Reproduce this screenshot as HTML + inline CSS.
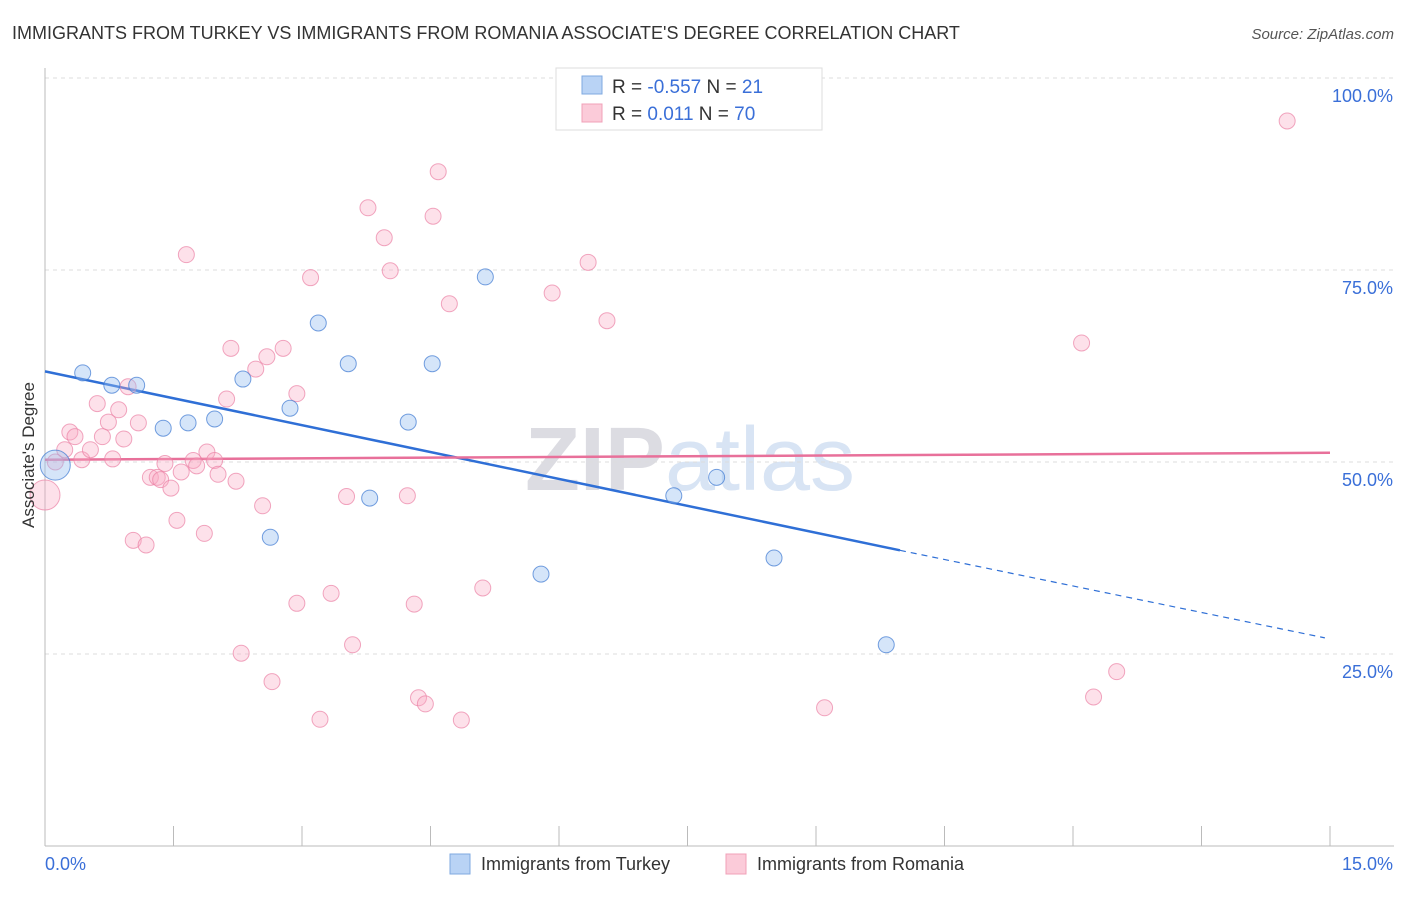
<!DOCTYPE html>
<html><head><meta charset="utf-8"><style>
body{margin:0;background:#fff;font-family:"Liberation Sans",sans-serif;}
svg text{font-family:"Liberation Sans",sans-serif;}
</style></head><body>
<svg id="chart" width="1406" height="892" xmlns="http://www.w3.org/2000/svg">
<text x="12" y="39" font-size="18" fill="#333">IMMIGRANTS FROM TURKEY VS IMMIGRANTS FROM ROMANIA ASSOCIATE'S DEGREE CORRELATION CHART</text>
<text x="1394" y="39" font-size="15" fill="#555" font-style="italic" text-anchor="end">Source: ZipAtlas.com</text>
<text x="690" y="490" font-size="90" fill="#e6e6ec" text-anchor="middle" font-family="Liberation Serif"><tspan font-weight="bold" fill="#dcdce2">ZIP</tspan><tspan fill="#d8e4f4" font-family="Liberation Sans">atlas</tspan></text>
<g id="grid"></g>
<g id="axes"></g>
<g id="lines"></g>
<g id="pts"></g>
<text x="34" y="455" font-size="17" fill="#333" text-anchor="middle" transform="rotate(-90 34 455)">Associate's Degree</text>
<g>
<rect x="556" y="68" width="266" height="62" fill="#fff" stroke="#ddd"/>
<rect x="582" y="76" width="20" height="18" fill="#b9d3f5" stroke="#7fa9e0"/>
<rect x="582" y="104" width="20" height="18" fill="#fbcbd9" stroke="#f0a0b8"/>
<text x="612" y="93" font-size="19" fill="#333">R = <tspan fill="#3a6fd8">-0.557</tspan>   N = <tspan fill="#3a6fd8"> 21</tspan></text>
<text x="612" y="120" font-size="19" fill="#333">R =    <tspan fill="#3a6fd8">0.011</tspan>   N = <tspan fill="#3a6fd8">70</tspan></text>
</g>
<g>
<rect x="450" y="854" width="20" height="20" fill="#b9d3f5" stroke="#7fa9e0"/>
<text x="481" y="870" font-size="18" fill="#333">Immigrants from Turkey</text>
<rect x="726" y="854" width="20" height="20" fill="#fbcbd9" stroke="#f0a0b8"/>
<text x="757" y="870" font-size="18" fill="#333">Immigrants from Romania</text>
</g>
</svg>
<script>
const yTicks=[25,50,75,100];
const yTickLabels=["25.0%","50.0%","75.0%","100.0%"];
const xTickVals=[0,1.5,3,4.5,6,7.5,9,10.5,12,13.5,15];
const xEndLabels=["0.0%","15.0%"];
const turkeyX=[0.44,0.78,1.07,1.38,1.67,1.98,2.31,2.63,2.86,3.19,3.54,3.79,4.24,4.52,5.14,5.79,7.34,7.84,8.51,9.82,0.12];
const turkeyY=[61.6,60.0,60.0,54.4,55.1,55.6,60.8,40.2,57.0,68.1,62.8,45.3,55.2,62.8,74.1,35.4,45.6,48.0,37.5,26.2,49.6];
const romaniaX=[0.0,0.12,0.23,0.29,0.35,0.43,0.53,0.61,0.67,0.74,0.79,0.86,0.92,0.97,1.03,1.09,1.18,1.23,1.31,1.35,1.40,1.47,1.54,1.59,1.65,1.73,1.77,1.86,1.89,1.98,2.02,2.12,2.17,2.23,2.29,2.46,2.54,2.59,2.65,2.78,2.94,2.94,3.10,3.21,3.34,3.52,3.59,3.77,3.96,4.03,4.23,4.31,4.36,4.44,4.53,4.59,4.72,4.86,5.11,5.92,6.34,6.56,9.10,12.10,12.24,12.51,14.50];
const romaniaY=[45.7,50.0,51.6,53.9,53.3,50.3,51.6,57.6,53.3,55.2,50.4,56.8,53.0,59.8,39.8,55.1,39.2,48.0,48.0,47.7,49.8,46.6,42.4,48.7,77.0,50.2,49.5,40.7,51.3,50.2,48.4,58.2,64.8,47.5,25.1,62.1,44.3,63.7,21.4,64.8,58.9,31.6,74.0,16.5,32.9,45.5,26.2,83.1,79.2,74.9,45.6,31.5,19.3,18.5,82.0,87.8,70.6,16.4,33.6,72.0,76.0,68.4,18.0,65.5,19.4,22.7,94.4];
const turkeyTrend=[[0,61.8],[9.98,38.5]];
const turkeyTrendDash=[[9.98,38.5],[14.94,27.1]];
const romaniaTrend=[[0,50.3],[15,51.2]];
const X=v=>45+v/15*1285, Y=v=>846-v*7.68;
const NS="http://www.w3.org/2000/svg";
function mk(p,t,a){const e=document.createElementNS(NS,t);for(const k in a)e.setAttribute(k,a[k]);p.appendChild(e);return e;}
const grid=document.getElementById('grid'),axes=document.getElementById('axes'),lines=document.getElementById('lines'),pts=document.getElementById('pts');
yTicks.forEach((v,i)=>{
 const l=mk(grid,'line',{x1:45,x2:1394,y1:Y(v),y2:Y(v),stroke:'#ddd','stroke-dasharray':'4 4'});
 
 
 const t=mk(axes,'text',{x:1393,y:Y(v)+24,'font-size':18,fill:'#3a6fd8','text-anchor':'end'});t.textContent=yTickLabels[i];
 
 
});
mk(axes,'line',{x1:45,x2:45,y1:68,y2:846,stroke:'#bbb'});
mk(axes,'line',{x1:45,x2:1394,y1:846,y2:846,stroke:'#bbb'});
xTickVals.forEach(v=>{const t=mk(axes,'line',{x1:X(v),x2:X(v),y1:826,y2:846,stroke:'#bbb'});
 
 });
const xl0=mk(axes,'text',{x:45,y:870,'font-size':18,fill:'#3a6fd8'});xl0.textContent=xEndLabels[0];


const xl1=mk(axes,'text',{x:1393,y:870,'font-size':18,fill:'#3a6fd8','text-anchor':'end'});xl1.textContent=xEndLabels[1];


function ln(seg,col,dash,w){const e=mk(lines,'line',{x1:X(seg[0][0]),y1:Y(seg[0][1]),x2:X(seg[1][0]),y2:Y(seg[1][1]),stroke:col,'stroke-width':w});if(dash)e.setAttribute('stroke-dasharray',dash);return e;}
const l1=ln(turkeyTrend,'#2f6fd6',null,2.5);


const l2=ln(turkeyTrendDash,'#2f6fd6','6 5',1.2);


romaniaX.forEach((x,i)=>{const c=mk(pts,'circle',{cx:X(x),cy:Y(romaniaY[i]),r:i==0?15:8,fill:'rgba(248,170,195,0.35)',stroke:'rgba(235,130,165,0.7)','stroke-width':1});
 
 });
turkeyX.forEach((x,i)=>{const c=mk(pts,'circle',{cx:X(x),cy:Y(turkeyY[i]),r:i==20?15:8,fill:'rgba(150,190,240,0.4)',stroke:'rgba(60,120,210,0.7)','stroke-width':1});
 
 });
const l3=ln(romaniaTrend,'#e8709a',null,2.5);


</script>
</body></html>
